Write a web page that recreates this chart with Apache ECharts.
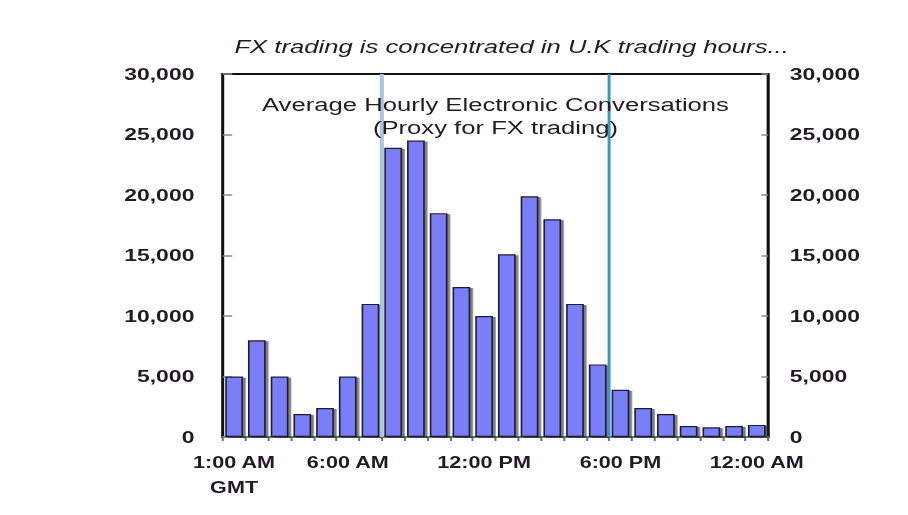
<!DOCTYPE html>
<html>
<head>
<meta charset="utf-8">
<script src="https://cdn.jsdelivr.net/npm/echarts@6/dist/echarts.min.js"></script>
<style>
  html, body { margin: 0; padding: 0; background: #fff; overflow: hidden; }
  /* drawn narrow, then widened to the 908px frame */
  #chart { width: 673px; height: 515px; transform: scaleX(1.35); transform-origin: 0 0; }
</style>
</head>
<body>
<div id="chart"></div>
<script>
// Hour slots, GMT
const hours = [
  '1:00 AM', '2:00 AM', '3:00 AM', '4:00 AM', '5:00 AM', '6:00 AM',
  '7:00 AM', '8:00 AM', '9:00 AM', '10:00 AM', '11:00 AM', '12:00 PM',
  '1:00 PM', '2:00 PM', '3:00 PM', '4:00 PM', '5:00 PM', '6:00 PM',
  '7:00 PM', '8:00 PM', '9:00 PM', '10:00 PM', '11:00 PM', '12:00 AM'
];

// Average hourly electronic conversations per slot
const conversations = [
  5000, 8000, 5000, 1900, 2400, 5000,
  11000, 23900, 24500, 18500, 12400, 10000,
  15100, 19900, 18000, 11000, 6000, 3900,
  2400, 1900, 900, 800, 900, 1000
];

// Hour labels printed under the axis
const shownHourLabels = ['1:00 AM', '6:00 AM', '12:00 PM', '6:00 PM', '12:00 AM'];

// Value axis range and step
const yMin = 0;
const yMax = 30000;
const yStep = 5000;

// UK session open / close, as slot boundaries counted from the 1:00 AM slot
const ukOpenEdge = 7;
const ukCloseEdge = 17;

const labelColor = '#231a26';
const fontFamily = '"Liberation Sans", Arial, sans-serif';

const chart = echarts.init(document.getElementById('chart'), null, { renderer: 'svg' });

const valueAxisBase = {
  type: 'value',
  min: yMin,
  max: yMax,
  interval: yStep,
  splitLine: { show: false },
  axisLine: { show: true, lineStyle: { color: '#111', width: 2 } },
  axisTick: { show: true, inside: true, length: 7, lineStyle: { color: '#8a8a8a', width: 1.5 } },
  axisLabel: {
    fontSize: 17,
    fontWeight: 'bold',
    fontFamily: fontFamily,
    color: labelColor,
    formatter: v => v.toLocaleString('en-US')
  }
};

chart.setOption({
  animation: false,
  backgroundColor: '#fff',
  title: [
    {
      text: 'FX trading is concentrated in U.K trading hours...',
      left: 379,
      top: 37,
      padding: 0,
      textAlign: 'center',
      textStyle: {
        fontStyle: 'italic',
        fontWeight: 'normal',
        fontSize: 19,
        fontFamily: fontFamily,
        color: labelColor
      }
    },
    {
      text: 'Average Hourly Electronic Conversations\n(Proxy for FX trading)',
      left: 367,
      top: 93,
      padding: 0,
      textAlign: 'center',
      textStyle: {
        fontWeight: 'normal',
        fontSize: 19,
        lineHeight: 23,
        fontFamily: fontFamily,
        color: labelColor
      }
    }
  ],
  grid: {
    left: 165,
    right: 104,
    top: 74,
    bottom: 78,
    show: true,
    borderColor: '#111',
    borderWidth: 2,
    backgroundColor: 'transparent'
  },
  xAxis: [
    {
      type: 'category',
      data: hours,
      axisLine: { show: true, lineStyle: { color: '#6e6e6e', width: 2 } },
      axisTick: { show: true, interval: 0, length: 4, lineStyle: { color: '#6e6e6e', width: 1.5 } },
      axisLabel: {
        interval: (i, v) => shownHourLabels.includes(v),
        formatter: (v, i) => (i === 0 ? v + '\nGMT' : v),
        fontSize: 16,
        fontWeight: 'bold',
        fontFamily: fontFamily,
        color: labelColor,
        lineHeight: 25,
        margin: 13
      }
    },
    {
      type: 'value',
      min: 0,
      max: hours.length,
      show: false
    }
  ],
  yAxis: [
    Object.assign({}, valueAxisBase, {
      position: 'left',
      axisLabel: Object.assign({}, valueAxisBase.axisLabel, { margin: 21 })
    }),
    Object.assign({}, valueAxisBase, {
      position: 'right',
      axisTick: Object.assign({}, valueAxisBase.axisTick, { length: 5 }),
      axisLabel: Object.assign({}, valueAxisBase.axisLabel, { margin: 16 })
    })
  ],
  series: [
    {
      name: 'Conversations',
      type: 'bar',
      xAxisIndex: 0,
      yAxisIndex: 0,
      data: conversations,
      barCategoryGap: '22%',
      itemStyle: {
        color: '#7a7ef8',
        borderColor: '#1e1e34',
        borderWidth: 1.2,
        shadowColor: 'rgba(40, 40, 40, 0.6)',
        shadowOffsetX: 2,
        shadowOffsetY: 1,
        shadowBlur: 1
      },
      z: 2
    },
    {
      name: 'UK open',
      type: 'line',
      xAxisIndex: 1,
      yAxisIndex: 0,
      data: [[ukOpenEdge, yMin], [ukOpenEdge, yMax]],
      symbol: 'none',
      lineStyle: { color: '#a9c6d8', width: 3 },
      z: 5
    },
    {
      name: 'UK close',
      type: 'line',
      xAxisIndex: 1,
      yAxisIndex: 0,
      data: [[ukCloseEdge, yMin], [ukCloseEdge, yMax]],
      symbol: 'none',
      lineStyle: { color: '#3a95cc', width: 2.2 },
      z: 5
    }
  ]
});
</script>
</body>
</html>
